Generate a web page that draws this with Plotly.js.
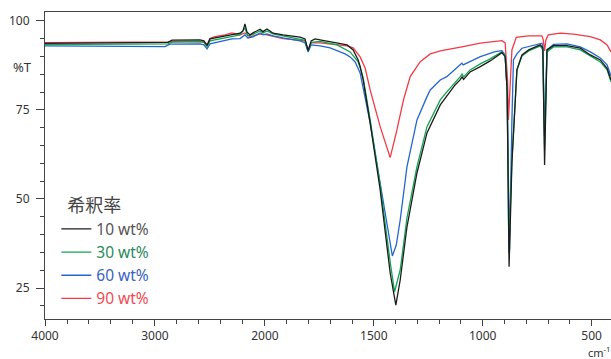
<!DOCTYPE html>
<html>
<head>
<meta charset="utf-8">
<script src="https://cdn.plot.ly/plotly-3.0.1.min.js"></script>
<style>html,body{margin:0;padding:0;background:#fff;}#chart{width:611px;height:359px;}</style>
</head>
<body>
<div id="chart"></div>
<script>
// Series names and colours
const seriesNames = ["10 wt%", "30 wt%", "60 wt%", "90 wt%"];
const lineColors = ["#1c1c1c", "#10a550", "#2466cf", "#f23a44"];
const textColors = ["#555555", "#2a8a5c", "#3a62c4", "#f04a55"];
const legendTitle = "希釈率";

// Axis ticks (wavenumber, cm-1)
const xTickLabels = [4000, 3000, 2000, 1500, 1000, 500];
const xMinorTicks = [3800, 3600, 3400, 3200, 2800, 2600, 2400, 2200,
  1900, 1800, 1700, 1600, 1400, 1300, 1200, 1100, 900, 800, 700, 600];
const yTickLabels = [25, 50, 75, 100];

// 10 wt%
const wn10 = [4000,3500,3045,2882,2845,2591,2555,2527,2500,2455,2364,2300,2227,2200,2182,2164,2136,2109,2073,2045,2018,1991,1977,1963,1917,1839,1816,1802,1788,1770,1747,1669,1623,1595,1572,1563,1549,1517,1471,1425,1399,1379,1348,1302,1256,1195,1165,1127,1104,1095,1088,1058,1011,966,912,897,888,879,866,855,851,843,820,789,736,724,716,705,675,613,552,506,460,429,411];
const t10 = [93.7,93.74,93.8,93.96,94.58,94.66,94.38,93.12,94.94,95.22,95.65,96.07,96.55,97.19,99.16,96.91,96.07,96.63,97.19,97.67,97.0,97.75,97.19,96.55,96.07,95.42,94.94,91.66,94.38,94.94,94.66,93.9,93.26,91.85,89.04,87.2,83.43,71.35,52.53,29.21,20.22,27.25,42.13,57.3,68.54,76.4,78.74,82.02,83.43,84.27,83.57,85.67,87.16,88.76,91.1,89.97,80.62,30.98,60.11,74.44,75.93,86.24,90.45,91.85,93.26,92.42,59.55,91.85,93.06,93.06,92.33,90.45,89.04,86.71,83.43];

// 30 wt%
const wn30 = [4000,3500,3045,2882,2845,2591,2555,2527,2500,2455,2364,2300,2227,2182,2155,2109,2045,2018,1991,1963,1917,1839,1816,1802,1788,1747,1669,1609,1572,1563,1549,1517,1471,1425,1405,1379,1348,1302,1256,1195,1165,1104,1095,1088,1058,1011,966,912,897,888,880,866,855,851,843,820,789,736,724,716,705,675,613,552,506,460,429,411];
const t30 = [93.34,93.4,93.4,93.54,94.02,94.16,93.96,92.78,94.38,94.66,95.22,95.51,96.07,98.03,95.79,96.21,97.19,96.63,97.19,96.35,95.79,94.94,94.52,91.57,93.96,94.24,93.26,91.29,88.48,86.9,83.99,72.19,53.93,32.3,23.96,30.06,44.66,59.07,70.31,77.81,80.06,84.27,85.11,84.27,86.24,87.92,89.33,91.29,90.17,80.62,34.83,60.96,75.0,76.4,86.24,90.17,91.57,92.98,91.85,63.76,91.29,92.7,92.7,91.85,90.17,88.48,86.24,82.87];

// 60 wt%
const wn60 = [4000,3500,3318,3045,2909,2864,2591,2555,2527,2500,2455,2364,2300,2227,2182,2155,2109,2045,2018,1991,1963,1917,1839,1816,1802,1788,1747,1701,1632,1609,1586,1563,1517,1471,1434,1415,1397,1379,1348,1302,1256,1241,1195,1165,1096,1090,1011,943,912,897,888,877,866,859,843,820,728,724,716,705,675,613,552,506,460,429,411];
const t60 = [92.98,92.89,92.98,92.84,92.78,93.46,93.54,93.26,92.13,93.54,93.9,94.52,94.94,95.03,96.07,95.22,95.51,96.63,96.07,96.35,95.79,95.22,94.38,93.82,91.29,93.26,92.98,92.42,90.73,89.89,88.48,85.39,71.35,54.49,40.45,33.99,37.08,44.1,58.99,72.19,78.74,80.62,83.43,84.35,88.12,87.64,89.97,91.38,91.66,90.45,80.62,35.67,72.19,89.04,90.73,92.33,93.74,92.7,67.98,91.85,93.4,93.54,92.7,91.29,89.61,87.64,84.55];

// 90 wt%
const wn90 = [4000,3500,3045,2882,2845,2591,2555,2527,2500,2455,2364,2300,2255,2227,2182,2136,2045,1991,1917,1839,1816,1802,1788,1747,1669,1623,1595,1563,1540,1517,1471,1448,1425,1394,1364,1333,1287,1241,1195,1090,1011,912,897,886,882,874,866,846,791,728,722,716,710,699,644,584,506,460,429,411];
const t90 = [93.9,93.96,93.96,94.1,94.24,94.24,94.1,93.26,95.08,95.59,96.07,96.63,96.35,96.07,96.63,95.51,96.35,96.07,95.03,94.66,94.38,91.85,93.82,93.82,93.26,92.98,92.42,89.89,86.8,80.62,70.31,66.01,61.6,69.38,77.81,84.35,88.57,90.73,91.57,92.78,93.74,94.47,93.82,83.43,72.19,82.02,91.85,95.37,95.79,95.79,94.66,91.57,94.66,96.07,96.55,96.26,95.59,94.66,93.26,91.29];

const wnAll = [wn10, wn30, wn60, wn90];
const tAll = [t10, t30, t60, t90];

// Axis scale: compressed above 2000 cm-1, doubled below 2000 cm-1
const K = 1.98;
function u(w) { return w >= 2000 ? 4000 - w : 2000 + K * (2000 - w); }
const xMax = u(411);

const traces = seriesNames.map((name, i) => ({
  type: "scatter", mode: "lines",
  x: wnAll[i].map(u), y: tAll[i],
  name: '<span style="color:' + textColors[i] + '">' + name + '</span>',
  line: { color: lineColors[i], width: 1.3 },
  legendgroup: "g" + i,
  hoverinfo: "skip"
}));
// draw order: red, blue, green, black on top
const ordered = [traces[3], traces[2], traces[1], traces[0]];

const axisColor = "#444";
const tickFont = { family: "Noto Sans, Open Sans, sans-serif", size: 12, color: "#333" };

const layout = {
  width: 611, height: 359,
  margin: { l: 45, r: 0, t: 12, b: 40, pad: 0 },
  paper_bgcolor: "#fff", plot_bgcolor: "#fff",
  showlegend: true,
  legend: {
    x: 0.02, y: 0.4235, xanchor: "left", yanchor: "top",
    traceorder: "reversed",
    bgcolor: "rgba(0,0,0,0)",
    font: { family: "Noto Sans, Open Sans, sans-serif", size: 15.5, color: "#555" },
    title: { text: "\u2002" + legendTitle, font: { family: "Noto Sans CJK JP, sans-serif", size: 18, color: "#444" } },
    itemwidth: 30, tracegroupgap: 1.5
  },
  xaxis: {
    range: [0, xMax], showgrid: false, zeroline: false,
    showline: true, linecolor: axisColor, linewidth: 1, mirror: true,
    ticks: "outside", ticklen: 6, tickwidth: 1, tickcolor: axisColor,
    tickmode: "array", tickvals: xTickLabels.map(u), ticktext: xTickLabels.map(String),
    tickfont: tickFont,
    minor: { tickmode: "array", tickvals: xMinorTicks.map(u), ticks: "outside", ticklen: 4, tickcolor: axisColor, showgrid: false }
  },
  yaxis: {
    range: [16.3, 102.5], showgrid: false, zeroline: false,
    showline: true, linecolor: axisColor, linewidth: 1,
    ticks: "outside", ticklen: 8, tickwidth: 1, tickcolor: axisColor,
    tickmode: "array", tickvals: yTickLabels, ticktext: yTickLabels.map(String),
    tickfont: tickFont, ticklabelstandoff: 4,
    minor: { dtick: 5, tick0: 0, ticks: "outside", ticklen: 4, tickcolor: axisColor, showgrid: false }
  },
  annotations: [
    { xref: "paper", yref: "paper", x: -0.04, y: 0.821, xanchor: "center", yanchor: "middle",
      text: "%T", showarrow: false,
      font: { family: "Noto Sans, sans-serif", size: 13, color: "#333" } },
    { xref: "paper", yref: "paper", x: 1, y: -0.1065, xanchor: "right", yanchor: "middle",
      text: "cm<sup>-1</sup>", showarrow: false, borderpad: 0,
      font: { family: "Noto Sans, sans-serif", size: 11, color: "#333" } }
  ]
};

Plotly.newPlot("chart", ordered, layout, { staticPlot: true, displayModeBar: false });
</script>
</body>
</html>
